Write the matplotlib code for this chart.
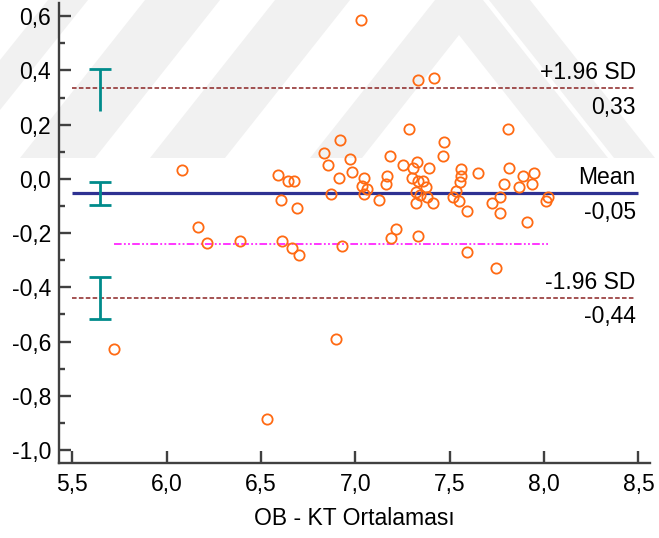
import matplotlib
matplotlib.use("Agg")
import matplotlib.pyplot as plt
from matplotlib.patches import Polygon
from matplotlib.ticker import FuncFormatter, MultipleLocator

plt.rcParams['font.family'] = ['Liberation Sans', 'DejaVu Sans']

# ortalama (x) ve fark (y) degerleri
x_mean = [6.081, 6.164, 6.215, 6.389, 6.589, 6.645, 6.675, 6.604, 6.689, 6.610,
          6.663, 6.703, 6.834, 6.919, 6.853, 6.912, 6.873, 6.972, 6.981, 7.047,
          7.037, 7.062, 7.047, 7.124, 6.929, 7.184, 7.251, 7.168, 7.161, 7.214,
          7.191, 7.283, 7.307, 7.325, 7.302, 7.334, 7.357, 7.373, 7.320, 7.343,
          7.320, 7.380, 7.410, 7.390, 7.332, 7.471, 7.463, 7.558, 7.558, 7.553,
          7.532, 7.519, 7.548, 7.592, 7.590, 7.652, 7.723, 7.767, 7.767, 7.745,
          7.811, 7.816, 7.788, 7.869, 7.890, 7.948, 7.935, 7.908, 8.010, 8.022,
          7.031, 7.330, 7.418, 6.896, 6.530, 5.721]
y_diff = [0.033, -0.176, -0.237, -0.228, 0.015, -0.007, -0.007, -0.077, -0.106, -0.228,
          -0.256, -0.279, 0.095, 0.144, 0.052, 0.005, -0.056, 0.074, 0.025, 0.005,
          -0.026, -0.036, -0.056, -0.077, -0.246, 0.085, 0.052, 0.012, -0.018, -0.186,
          -0.218, 0.183, 0.039, 0.064, 0.003, -0.007, -0.007, -0.028, -0.047, -0.059,
          -0.087, -0.068, -0.087, 0.042, -0.209, 0.135, 0.085, 0.036, 0.012, -0.011,
          -0.043, -0.068, -0.080, -0.117, -0.270, 0.023, -0.090, -0.065, -0.127, -0.330,
          0.183, 0.042, -0.018, -0.028, 0.012, 0.023, -0.018, -0.160, -0.080, -0.065,
          0.587, 0.365, 0.374, -0.590, -0.887, -0.628]

mean_diff = -0.052
sd_diff = 0.197
upper = mean_diff + 1.96 * sd_diff
lower = mean_diff - 1.96 * sd_diff
trend_y = -0.241

# guven araliklari (alt, ust)
ci_upper = (0.252, 0.405)
ci_mean = (-0.096, -0.010)
ci_lower = (-0.517, -0.361)
ci_x = 5.647

xticks = [5.5, 6.0, 6.5, 7.0, 7.5, 8.0, 8.5]
yticks = [-1.0, -0.8, -0.6, -0.4, -0.2, 0.0, 0.2, 0.4, 0.6]


def virgul(v, pos=None):
    return f"{v:.1f}".replace('.', ',')


W, H = 659, 538
fig = plt.figure(figsize=(W / 100, H / 100), dpi=100)

# arka plandaki soluk filigran seritleri (piksel koordinatlari)
bands = [
    [(0, 110), (0, 60), (48, 0), (88, 0)],
    [(20, 158), (95, 158), (220, 0), (145, 0)],
    [(150, 158), (225, 158), (350, 0), (275, 0)],
    [(310, 158), (362, 158), (459, 35), (556, 158), (608, 158), (483, 0), (435, 0)],
    [(489, 0), (530, 0), (655, 158), (614, 158)],
]
for b in bands:
    pts = [(px / W, 1 - py / H) for px, py in b]
    fig.patches.append(Polygon(pts, closed=True, transform=fig.transFigure,
                               facecolor='#f1f1f1', edgecolor='none', zorder=0))

ax = fig.add_axes([59.3 / W, 74.7 / H, (650 - 59.3) / W, (538 - 3 - 74.7) / H])
ax.set_zorder(1)
ax.set_facecolor('none')
ax.set_xlim(5.431, 8.561)
ax.set_ylim(-1.049, 0.649)

# ortalama ve limit cizgileri
ax.hlines(mean_diff, 5.5, 8.5, color='#2e3192', lw=2.3, zorder=2)
ax.hlines([upper, lower], 5.5, 8.48, color='#8b2323', lw=1.1,
          linestyles=(0, (3, 1.5)), zorder=2)
ax.hlines(trend_y, min(x_mean), max(x_mean), color='#ff00ff', lw=1.1,
          linestyles=(0, (5, 1.5, 1.2, 1.5, 1.2, 1.5)), zorder=2)

# guven araligi cubuklari
cap = 0.058
teal = '#008b8b'
for lo, hi in [ci_upper, ci_mean, ci_lower]:
    ax.vlines(ci_x, lo, hi, color=teal, lw=2)
ax.hlines([ci_upper[1], ci_mean[0], ci_mean[1], ci_lower[0], ci_lower[1]],
          ci_x - cap, ci_x + cap, color=teal, lw=2)

ax.plot(x_mean, y_diff, 'o', ms=7.4, mfc='none', mec='#ff6a13', mew=1.3, zorder=3)

# sag taraftaki etiketler
tx = 8.485
fs = 16.5
lbl = dict(ha='right', va='baseline', fontsize=fs, textcoords='offset points')
ax.annotate('+1.96 SD', (tx, upper), xytext=(0, 6.5), **lbl)
ax.annotate(f"{upper:.2f}".replace('.', ','), (tx, upper), xytext=(0, -18.4), **lbl)
ax.annotate('Mean', (tx, mean_diff), xytext=(0, 6.5), **lbl)
ax.annotate(f"{mean_diff:.2f}".replace('.', ','), (tx, mean_diff), xytext=(0, -18.4), **lbl)
ax.annotate('-1.96 SD', (tx, lower), xytext=(0, 6.5), **lbl)
ax.annotate(f"{lower:.2f}".replace('.', ','), (tx, lower), xytext=(0, -18.4), **lbl)

for s in ['top', 'right']:
    ax.spines[s].set_visible(False)
for s in ['left', 'bottom']:
    ax.spines[s].set_color('#404040')
    ax.spines[s].set_linewidth(1.7)

ax.set_xticks(xticks)
ax.set_yticks(yticks)
ax.yaxis.set_minor_locator(MultipleLocator(0.1))
ax.xaxis.set_major_formatter(FuncFormatter(virgul))
ax.yaxis.set_major_formatter(FuncFormatter(virgul))
ax.tick_params(axis='both', which='major', direction='in', length=8.4, width=1.7,
               color='#404040', labelsize=fs)
ax.tick_params(axis='y', which='minor', direction='in', length=4.1, width=1.7,
               color='#404040')
ax.tick_params(axis='x', pad=7)
ax.tick_params(axis='y', pad=6)

ax.set_xlabel('OB - KT Ortalaması', fontsize=fs, labelpad=8)

fig.savefig('out.png', dpi=100)
